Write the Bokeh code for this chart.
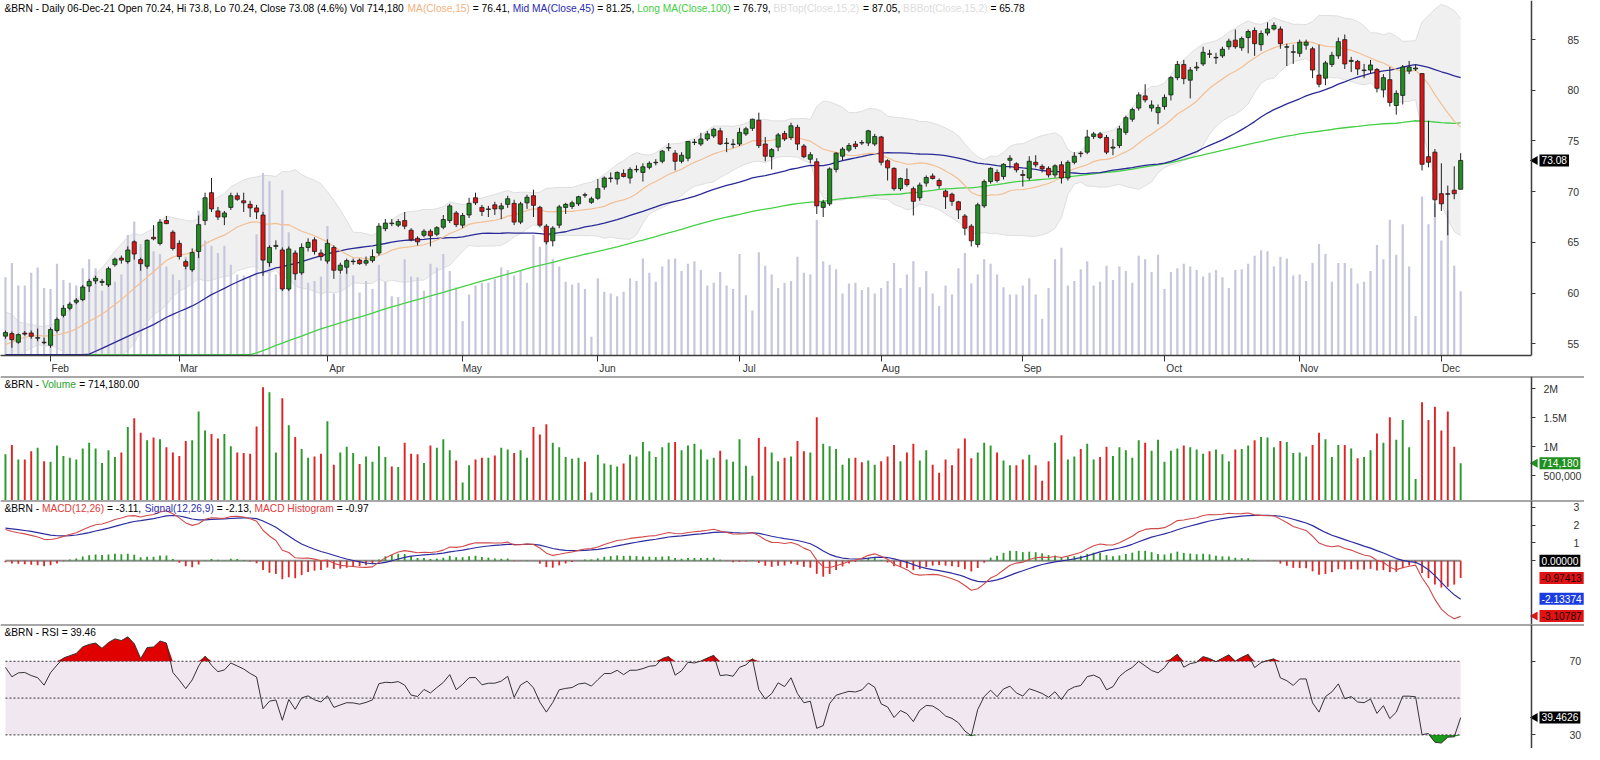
import numpy as np
import pandas as pd
from bokeh.plotting import figure
from bokeh.layouts import column
from bokeh.models import Range1d, FixedTicker, Label, Span
from bokeh.embed import file_html
from bokeh.resources import INLINE

# ------------------------------------------------------------------ data
opens = [
    55.75, 56.0, 55.15, 56.05, 56.06, 55.55, 55.15, 54.85, 56.3, 57.8,
    58.5, 59.1, 59.35, 60.7, 61.2, 61.05, 60.8, 62.8, 63.45, 63.1,
    65.05, 63.3, 62.65, 65.5, 64.9, 67.15, 66.0, 64.9, 63.1, 62.3,
    64.1, 67.15, 69.9, 68.1, 67.5, 68.45, 69.6, 69.1, 68.75, 68.4,
    67.7, 63.0, 64.6, 64.25, 60.4, 63.95, 62.0, 64.5, 65.25, 63.95,
    63.15, 64.5, 62.25, 62.55, 63.1, 63.25, 62.95, 63.2, 63.95, 66.35,
    66.9, 66.7, 67.15, 66.2, 65.4, 65.7, 66.1, 65.8, 66.5, 67.15,
    67.9, 66.7, 67.7, 69.4, 68.45, 68.25, 68.7, 68.3, 68.75, 68.85,
    67.0, 68.9, 69.6, 68.45, 66.6, 65.15, 66.7, 68.45, 68.55, 68.8,
    69.7, 68.95, 69.35, 70.45, 71.3, 71.25, 71.8, 71.35, 72.15, 71.9,
    72.4, 72.85, 73.0, 74.3, 73.8, 73.0, 73.3, 74.85, 74.7, 75.2,
    75.5, 76.0, 74.75, 74.65, 74.7, 75.7, 76.25, 77.05, 74.7, 73.45,
    74.4, 75.75, 75.35, 76.35, 74.5, 73.2, 72.95, 68.45, 68.8, 72.2,
    73.5, 74.1, 74.7, 74.85, 74.8, 74.7, 75.4, 73.05, 72.3, 70.3,
    71.2, 70.3, 69.4, 70.85, 71.55, 71.1, 70.05, 69.75, 69.0, 67.6,
    66.6, 64.8, 68.6, 71.0, 71.9, 71.5, 73.1, 72.75, 71.7, 71.35,
    72.9, 72.5, 72.3, 71.65, 72.65, 71.35, 72.9, 73.8, 73.9, 75.45,
    75.7, 75.35, 74.3, 74.55, 75.85, 77.15, 78.25, 79.45, 78.25, 77.8,
    78.4, 79.55, 81.25, 82.55, 81.0, 82.2, 82.6, 83.6, 83.2, 83.4,
    84.3, 84.95, 84.2, 85.2, 85.9, 84.5, 85.65, 86.05, 86.05, 84.25,
    83.75, 83.65, 84.45, 84.1, 81.5, 81.2, 82.55, 83.4, 85.0, 82.85,
    82.85, 81.95, 82.0, 82.05, 80.05, 81.05, 78.5, 79.5, 81.9, 82.1,
    81.65, 73.45, 73.9, 69.8, 69.8, 70.15, 70.24,
]
highs = [
    56.3, 56.2, 56.0, 56.25, 56.3, 56.5, 55.6, 56.6, 57.6, 58.8,
    59.1, 59.5, 60.8, 61.4, 61.7, 61.4, 62.6, 63.5, 63.7, 64.6,
    65.2, 63.5, 65.3, 66.7, 67.3, 67.6, 66.2, 65.2, 63.3, 64.4,
    67.65, 69.9, 71.35, 68.5, 68.1, 69.9, 69.9, 69.9, 69.1, 68.7,
    68.0, 64.7, 65.2, 64.5, 64.6, 64.2, 64.9, 65.4, 65.5, 64.3,
    65.3, 64.7, 63.0, 63.4, 63.4, 63.4, 63.6, 64.3, 66.9, 67.3,
    67.3, 67.3, 68.0, 66.4, 65.6, 66.3, 66.3, 66.6, 67.7, 68.8,
    68.1, 67.9, 69.4, 69.9, 68.7, 68.6, 69.0, 68.9, 69.6, 69.2,
    69.0, 69.7, 70.2, 68.6, 66.8, 66.6, 68.7, 68.9, 69.1, 69.6,
    69.9, 69.5, 71.25, 71.5, 71.9, 72.0, 72.2, 72.4, 72.6, 72.8,
    73.0, 73.2, 74.1, 74.8, 74.1, 73.9, 75.0, 75.2, 75.8, 76.0,
    76.3, 76.3, 75.3, 75.2, 76.3, 76.4, 77.2, 77.8, 75.4, 74.3,
    75.8, 76.0, 76.8, 76.6, 74.7, 73.9, 73.3, 69.2, 72.4, 73.9,
    74.4, 74.8, 75.0, 75.1, 76.1, 75.7, 75.5, 73.2, 72.4, 71.4,
    72.3, 70.5, 70.9, 71.6, 71.8, 71.3, 70.2, 69.9, 69.1, 67.8,
    66.8, 68.9, 71.2, 72.4, 72.2, 72.8, 73.6, 72.9, 72.15, 73.5,
    73.6, 72.7, 72.5, 72.7, 73.0, 73.1, 73.9, 74.0, 76.1, 75.9,
    75.9, 75.6, 75.2, 76.5, 77.5, 78.3, 79.8, 80.6, 79.0, 78.6,
    79.6, 81.4, 82.9, 83.0, 82.3, 82.8, 84.3, 84.0, 83.7, 84.3,
    85.1, 86.0, 85.3, 86.0, 86.2, 85.9, 86.7, 86.7, 86.3, 84.6,
    84.5, 85.0, 85.0, 84.3, 84.5, 82.9, 83.8, 85.2, 85.5, 83.3,
    83.0, 82.6, 83.0, 82.2, 81.6, 82.3, 80.0, 82.5, 82.9, 82.5,
    81.7, 77.0, 74.2, 72.8, 70.6, 72.5, 73.8,
]
lows = [
    55.5, 54.6, 55.0, 55.8, 55.5, 55.25, 54.95, 54.6, 56.1, 57.6,
    58.3, 58.9, 59.2, 60.1, 60.9, 60.7, 60.6, 62.6, 62.9, 62.9,
    63.3, 62.2, 62.4, 65.2, 64.7, 66.8, 64.2, 63.3, 62.35, 62.1,
    63.45, 66.7, 68.0, 67.2, 66.7, 68.2, 69.1, 68.0, 67.5, 67.3,
    61.7, 62.6, 64.3, 60.2, 60.2, 61.3, 61.8, 64.1, 63.8, 63.2,
    62.9, 61.4, 61.9, 61.9, 62.8, 62.8, 62.7, 63.0, 63.7, 66.1,
    66.6, 66.5, 66.3, 65.1, 64.7, 65.5, 64.6, 65.6, 66.3, 66.9,
    66.5, 66.4, 67.4, 68.7, 67.6, 67.5, 67.7, 67.3, 68.4, 66.7,
    66.8, 68.3, 67.5, 66.5, 64.8, 64.6, 66.4, 67.8, 68.3, 68.6,
    69.4, 68.8, 69.2, 70.2, 70.9, 70.7, 71.4, 70.8, 71.9, 71.0,
    72.2, 72.6, 72.8, 74.0, 72.1, 72.8, 73.0, 74.6, 74.5, 75.0,
    75.3, 74.6, 73.9, 74.3, 74.5, 75.5, 76.0, 74.3, 73.0, 72.2,
    74.0, 75.0, 75.1, 74.1, 73.3, 72.8, 67.8, 67.5, 68.6, 71.9,
    73.1, 73.9, 74.2, 74.6, 74.5, 74.5, 72.6, 71.1, 70.1, 70.1,
    70.5, 67.65, 69.1, 70.5, 71.2, 70.3, 68.3, 68.6, 67.3, 65.7,
    64.6, 64.5, 68.4, 70.8, 70.9, 71.2, 72.3, 71.9, 70.5, 71.1,
    72.4, 71.9, 71.4, 71.4, 70.8, 71.1, 72.7, 73.4, 73.7, 75.2,
    75.2, 73.7, 73.6, 74.3, 75.6, 76.9, 78.0, 78.8, 77.9, 76.65,
    78.1, 79.0, 81.0, 80.6, 79.2, 81.9, 82.4, 83.2, 82.6, 83.2,
    84.0, 84.1, 83.9, 83.65, 83.4, 83.9, 85.4, 85.9, 84.1, 82.4,
    82.6, 83.3, 84.0, 81.2, 80.3, 80.5, 82.3, 83.1, 82.1, 81.8,
    81.5, 81.2, 81.7, 79.8, 79.3, 78.4, 77.6, 78.6, 81.6, 81.9,
    72.1, 72.4, 67.5, 68.1, 65.7, 69.25, 70.24,
]
closes = [
    56.1, 55.4, 55.9, 55.95, 55.74, 55.6, 55.1, 56.4, 57.4, 58.5,
    58.9, 59.3, 60.6, 61.15, 61.45, 61.15, 62.4, 63.35, 63.25, 64.25,
    63.85, 62.9, 65.2, 65.35, 67.0, 66.85, 64.4, 63.6, 62.65, 64.0,
    66.75, 69.4, 68.3, 67.5, 67.9, 69.6, 69.25, 68.9, 68.4, 68.0,
    63.25, 64.5, 64.7, 60.4, 64.35, 61.9, 64.5, 65.0, 64.1, 63.6,
    64.9, 62.25, 62.75, 63.2, 63.15, 62.9, 63.2, 63.6, 66.6, 66.9,
    66.85, 67.05, 66.6, 65.25, 65.05, 66.1, 65.65, 66.45, 67.25, 68.6,
    66.75, 67.65, 68.85, 68.9, 68.05, 68.3, 68.3, 68.6, 69.3, 67.0,
    68.8, 69.45, 68.65, 66.7, 65.05, 66.4, 68.5, 68.75, 68.9, 69.5,
    69.65, 69.3, 70.3, 71.35, 71.35, 71.9, 71.5, 72.2, 72.2, 72.45,
    72.8, 72.9, 74.0, 74.35, 73.0, 73.6, 74.95, 74.9, 75.2, 75.7,
    76.15, 74.7, 74.8, 74.7, 75.85, 76.2, 77.15, 74.55, 73.5, 74.15,
    75.6, 75.2, 76.5, 74.7, 73.45, 73.65, 68.6, 68.95, 72.25, 73.8,
    74.2, 74.55, 74.45, 74.8, 76.0, 75.45, 72.9, 72.35, 70.3, 71.3,
    70.7, 69.05, 70.65, 71.4, 71.3, 70.6, 69.5, 69.05, 68.2, 66.4,
    65.15, 68.7, 71.0, 72.3, 71.1, 72.7, 73.3, 72.15, 71.6, 73.0,
    72.65, 72.25, 71.65, 72.55, 71.35, 72.9, 73.5, 73.75, 75.4, 75.7,
    75.35, 73.9, 74.4, 76.2, 77.3, 78.1, 79.55, 79.05, 78.55, 78.3,
    79.3, 81.25, 82.55, 81.15, 82.0, 82.3, 83.75, 83.55, 83.25, 84.05,
    84.85, 84.3, 85.1, 85.8, 84.6, 85.6, 86.05, 86.4, 84.6, 84.3,
    83.8, 84.75, 84.75, 82.0, 80.6, 82.7, 83.45, 84.8, 82.6, 82.95,
    82.1, 82.0, 82.5, 80.2, 81.25, 78.8, 79.7, 82.3, 82.3, 82.2,
    72.7, 72.9, 69.2, 68.8, 69.75, 69.8, 73.08,
]
volume_m = [
    0.87, 1.03, 0.78, 0.78, 0.92, 0.98, 0.75, 0.74, 1.02, 0.84,
    0.81, 0.78, 0.97, 1.07, 0.97, 0.72, 0.94, 0.82, 0.90, 1.34,
    1.49, 1.24, 1.11, 1.16, 1.13, 0.99, 0.90, 0.84, 1.10, 1.11,
    1.61, 1.28, 1.22, 1.14, 1.22, 1.01, 0.90, 0.89, 0.88, 1.35,
    2.03, 1.94, 0.90, 1.84, 1.37, 1.17, 0.96, 0.81, 0.83, 0.88,
    1.44, 0.69, 0.90, 1.00, 0.89, 0.70, 0.83, 0.74, 1.01, 0.82,
    0.66, 0.65, 1.07, 0.88, 0.87, 0.72, 1.02, 0.98, 1.13, 0.94,
    0.76, 0.38, 0.68, 0.78, 0.81, 0.81, 0.85, 0.98, 0.95, 0.89,
    0.94, 0.81, 1.34, 1.21, 1.39, 1.07, 0.99, 0.82, 0.79, 0.81,
    0.74, 0.21, 0.86, 0.71, 0.69, 0.66, 0.71, 0.86, 0.83, 1.08,
    0.92, 0.82, 0.99, 1.07, 1.08, 0.94, 1.02, 1.05, 0.95, 0.78,
    0.81, 0.93, 0.78, 0.74, 1.13, 0.67, 0.50, 1.15, 1.00, 0.90,
    0.75, 0.81, 0.83,
    1.10, 0.92, 0.90, 1.51, 1.05, 1.01, 0.96, 0.69, 0.80, 0.81,
    0.73, 0.76, 0.69, 0.75, 0.83, 1.03, 0.75, 0.90, 1.05, 0.76,
    0.94, 0.69, 0.55, 0.78, 0.68, 0.97, 1.14, 0.80, 0.90, 1.07,
    1.02, 0.90, 0.76, 0.68, 0.68, 0.78, 0.86, 0.68, 0.41, 0.75,
    1.07, 1.20, 0.78, 0.83, 0.96, 1.05, 0.78, 0.82, 1.00, 0.84,
    0.99, 0.94, 0.81, 1.11, 1.07, 0.93, 1.12, 0.74, 0.93, 0.97,
    1.02, 0.99, 0.95, 0.88, 0.92, 0.95, 0.87, 0.75, 0.95, 0.96,
    1.02, 1.11, 1.17, 1.16, 0.99, 1.10, 1.08, 0.89, 0.90, 0.83,
    1.03, 1.24, 1.13, 0.82, 1.03, 1.03, 0.97, 0.80, 0.82, 0.94,
    1.23, 1.07, 1.51, 1.12, 1.46, 0.99, 0.44, 1.77, 1.46, 1.69,
    1.28, 1.61, 1.00, 0.71418,
]
# closes before the first visible bar (Aug-2020 .. 20-Jan-2021), only used to seed the indicators
prior_closes = [
    45.81, 45.28,
    45.58, 44.43, 44.07, 42.66, 42.01, 39.78, 40.79, 40.06, 39.83, 39.61, 40.53,
    42.22, 43.30, 43.15, 41.44, 41.72, 41.77, 41.94, 41.92, 42.43, 41.03, 40.95,
    40.93, 39.27, 41.29, 42.65, 41.99, 43.34, 42.85, 41.72, 42.45, 43.32, 43.16,
    42.93, 42.62, 42.57, 41.73, 42.46, 41.77, 40.46, 41.20, 39.12, 37.65, 37.46,
    39.71, 40.71, 41.23, 40.93, 39.45, 42.40, 43.61, 43.80, 43.53, 42.78, 43.82,
    43.75, 44.34, 44.20, 44.96, 46.06, 48.02, 48.61, 47.80, 48.18, 47.59,
    47.42, 48.25, 48.71, 49.25, 48.79, 48.84, 48.86, 50.25, 49.97, 50.29, 50.76,
    51.08, 51.50, 52.26, 50.91, 50.08, 51.20, 51.29, 50.86, 51.09, 51.34, 51.80,
    51.09, 53.60, 54.30, 54.38, 55.99, 55.66, 56.58, 56.06, 56.42, 55.10, 54.75,
    55.90, 56.08,
]
first_day = "2021-01-21"
last_day = "2021-12-06"
holidays = ["2021-04-02"]

price_ticks = [55, 60, 65, 70, 75, 80, 85]
volume_ticks = [500000, 1000000, 1500000, 2000000]
volume_tick_labels = ["500,000", "1M", "1.5M", "2M"]
macd_ticks = [0, 1, 2, 3]
rsi_ticks = [30, 70]
rsi_levels = [30, 50, 70]

price_tag = (73.08, "73.08")
volume_tag = (714180, "714,180")
macd_tags = [(0.0, "0.00000"), (-0.97413, "-0.97413"), (-2.13374, "-2.13374"), (-3.10787, "-3.10787")]
rsi_tag = (39.4626, "39.4626")

price_header = [
    ("&BRN - Daily 06-Dec-21 Open 70.24, Hi 73.8, Lo 70.24, Close 73.08 (4.6%) Vol 714,180 ", "#000000"),
    ("MA(Close,15)", "#f2b27e"), (" = 76.41, ", "#000000"),
    ("Mid MA(Close,45)", "#2b2bb0"), (" = 81.25, ", "#000000"),
    ("Long MA(Close,100)", "#3fcf3f"), (" = 76.79, ", "#000000"),
    ("BBTop(Close,15,2)", "#dcdcdc"), (" = 87.05, ", "#000000"),
    ("BBBot(Close,15,2)", "#dcdcdc"), (" = 65.78", "#000000"),
]
volume_header = [("&BRN - ", "#000000"), ("Volume", "#28a428"), (" = 714,180.00", "#000000")]
macd_header = [
    ("&BRN - ", "#000000"), ("MACD(12,26)", "#e03c3c"), (" = -3.11, ", "#000000"),
    ("Signal(12,26,9)", "#2b2bb0"), (" = -2.13, ", "#000000"),
    ("MACD Histogram", "#e03c3c"), (" = -0.97", "#000000"),
]
rsi_header = [("&BRN - RSI = 39.46", "#000000")]

# ------------------------------------------------------------------ indicators
n = len(closes)
assert len(opens) == len(highs) == len(lows) == len(volume_m) == n
dates = pd.bdate_range(first_day, last_day).drop(pd.to_datetime(holidays))
assert len(dates) == n
idx = np.arange(n)
o = np.array(opens); h = np.array(highs); l = np.array(lows); c = np.array(closes)
vol = np.array(volume_m) * 1e6
up_bar = c >= o

allc = pd.Series(prior_closes + closes, dtype=float)
k = len(prior_closes)
ma15 = allc.rolling(15).mean().values[k:]
ma45 = allc.rolling(45).mean().values[k:]
ma100 = allc.rolling(100).mean().values[k:]
sd15 = allc.rolling(15).std(ddof=0).values[k:]
bbtop = ma15 + 2 * sd15
bbbot = ma15 - 2 * sd15
ema12 = allc.ewm(span=12, adjust=False).mean()
ema26 = allc.ewm(span=26, adjust=False).mean()
macd_s = ema12 - ema26
sig_s = macd_s.ewm(span=9, adjust=False).mean()
macd = macd_s.values[k:]
signal = sig_s.values[k:]
hist = macd - signal
d = allc.diff()
gain = d.clip(lower=0).ewm(alpha=1 / 14, adjust=False).mean()
loss = (-d).clip(lower=0).ewm(alpha=1 / 14, adjust=False).mean()
rsi = (100 - 100 / (1 + gain / loss)).values[k:]

# ------------------------------------------------------------------ layout
FONT = "Liberation Sans"
HEAD_PX = 10.2
HS = f"{HEAD_PX}px"
AS = "10.5px"
TS = "10.2px"
FW = 1584                       # frame covers the whole width; the value axis sits inside it
X_LO, X_AXIS = -0.77, 237.0     # x of the first pixel and of the right value axis (bar units)
PX_PER_BAR = 1531 / (X_AXIS - X_LO)
X_HI = X_LO + FW / PX_PER_BAR
H_PRICE, H_AXIS, H_VOL, H_MACD, H_RSI = 355, 15, 124, 124, 124
Y_LO, Y_HI = 53.84, 88.86
xr = Range1d(X_LO, X_HI)
AXC = "#3c3c3c"
GREEN = "#1f8f1f"
RED = "#e01414"

AW = {' ': 278, '%': 889, '&': 667, '(': 333, ')': 333, ',': 278, '-': 333, '.': 278, '=': 584,
      'A': 667, 'B': 667, 'C': 722, 'D': 722, 'G': 778, 'H': 722, 'I': 278, 'L': 556, 'M': 833,
      'N': 722, 'O': 778, 'R': 722, 'S': 667, 'T': 611, 'V': 667,
      'a': 556, 'b': 556, 'c': 500, 'd': 556, 'e': 556, 'g': 556, 'h': 556, 'i': 222, 'l': 222,
      'm': 833, 'n': 556, 'o': 556, 'p': 556, 'r': 333, 's': 500, 't': 278, 'u': 556, 'y': 500}
for dg in "0123456789":
    AW[dg] = 556


def text_width(s):
    return sum(AW.get(ch, 556) for ch in s) * HEAD_PX / 1000.0


def make_fig(fh, yr, bottom=0, standoff=30):
    f = figure(frame_width=FW, frame_height=fh, x_range=xr, y_range=yr,
               output_backend="svg", toolbar_location=None,
               y_axis_location="right", x_axis_location=("below" if bottom else None),
               min_border_left=0, min_border_right=0, min_border_top=0, min_border_bottom=bottom,
               outline_line_color=None, background_fill_color="white", border_fill_color="white")
    f.grid.visible = False
    ax = f.yaxis[0]
    ax.fixed_location = X_AXIS
    ax.axis_line_color = AXC
    ax.axis_line_width = 1.5
    ax.major_tick_out = 4
    ax.major_tick_in = 0
    ax.major_tick_line_color = AXC
    ax.minor_tick_line_color = None
    ax.major_label_standoff = standoff
    ax.major_label_text_font = FONT
    ax.major_label_text_font_size = AS
    ax.major_label_text_color = "#333333"
    return f


def header(f, segs, fh):
    x = 4.0
    for txt, col in segs:
        lead = len(txt) - len(txt.lstrip(" "))
        t = txt.strip(" ")
        if t:
            f.add_layout(Label(x=x + text_width(" " * lead), y=fh - 8, x_units="screen", y_units="screen",
                               text=t, text_color=col, text_font=FONT, text_font_size=HS,
                               text_baseline="middle"))
        x += text_width(txt)


def tag(f, yv, txt, bg, fg, arrow=True):
    f.add_layout(Label(x=X_AXIS + 8 / PX_PER_BAR, y=yv, text=txt, text_color=fg, background_fill_color=bg,
                       text_font=FONT, text_font_size=TS, text_baseline="middle",
                       text_align="left", padding=2))
    if arrow:
        f.scatter(x=[X_AXIS + 3.5 / PX_PER_BAR], y=[yv], marker="triangle", angle=np.pi / 2,
                  size=9, fill_color=bg, line_color=None)


def top_border(f, yr):
    f.add_layout(Span(location=yr.end, dimension="width", line_color="#505050", line_width=2))


# ---------------- price pane
pyr = Range1d(Y_LO, Y_HI)
p = make_fig(H_PRICE, pyr, bottom=H_AXIS, standoff=32)
p.yaxis[0].ticker = FixedTicker(ticks=price_ticks)
p.extra_y_ranges = {"ovl": Range1d(0, 3.95e6)}

p.varea(x=idx, y1=bbbot, y2=bbtop, fill_color="#f0f0f0")
p.line(idx, bbtop, line_color="#dedede", line_width=1)
p.line(idx, bbbot, line_color="#dedede", line_width=1)
p.vbar(x=idx, top=vol, bottom=0, width=0.34, y_range_name="ovl", fill_color="#c6c6dc", line_color=None)
floor = Y_LO + 0.09
p.line(idx, np.maximum(ma100, floor), line_color="#46d046", line_width=1.3)
p.line(idx, np.maximum(ma45, floor), line_color="#2a2a96", line_width=1.3)
p.line(idx, ma15, line_color="#f3bf94", line_width=1.2)
p.segment(x0=idx, y0=h, x1=idx, y1=l, line_color="#202020", line_width=1)
body_col = np.where(up_bar, GREEN, RED)
p.vbar(x=idx, top=np.maximum(o, c), bottom=np.minimum(o, c), width=0.64,
       fill_color=body_col, line_color="#1a1a1a", line_width=0.8)

month_pos = [i for i in range(1, n) if dates[i].month != dates[i - 1].month]
label_pos = [m + 1.5 for m in month_pos]
xa = p.xaxis[0]
xa.ticker = FixedTicker(ticks=label_pos, minor_ticks=month_pos)
xa.major_label_overrides = {lp: dates[m].strftime("%b") for lp, m in zip(label_pos, month_pos)}
xa.bounds = (X_LO, X_AXIS)
xa.major_tick_line_color = None
xa.major_tick_out = 0
xa.major_tick_in = 0
xa.minor_tick_out = 6
xa.minor_tick_in = 0
xa.minor_tick_line_color = "#333333"
xa.major_label_standoff = 1
xa.axis_line_color = AXC
xa.axis_line_width = 1.5
xa.major_label_text_font = FONT
xa.major_label_text_font_size = HS
xa.major_label_text_color = "#333333"
header(p, price_header, H_PRICE)
tag(p, price_tag[0], price_tag[1], "#000000", "#ffffff")

# ---------------- volume pane
vyr = Range1d(0.07e6, 2.214e6)
pv = make_fig(H_VOL, vyr, standoff=8)
pv.yaxis[0].ticker = FixedTicker(ticks=volume_ticks)
pv.yaxis[0].major_label_overrides = dict(zip(volume_ticks, volume_tick_labels))
pv.vbar(x=idx, top=vol, bottom=0, width=0.3, fill_color=np.where(up_bar, "#2a9a2a", "#e02424"), line_color=None)
top_border(pv, vyr)
header(pv, volume_header, H_VOL)
tag(pv, volume_tag[0], volume_tag[1], "#1f8f1f", "#ffffff")

# ---------------- MACD pane
myr = Range1d(-3.58, 3.384)
pm = make_fig(H_MACD, myr, standoff=38)
pm.yaxis[0].ticker = FixedTicker(ticks=macd_ticks)
pm.yaxis[0].major_label_overrides = {0: ""}
pm.line([idx[0], idx[-1]], [0, 0], line_color="#8c8c8c", line_width=2)
pm.vbar(x=idx, top=hist, bottom=0, width=0.28,
        fill_color=np.where(hist >= 0, "#2a9a2a", "#e02828"), line_color=None)
pm.line(idx, signal, line_color="#2c2ca0", line_width=1.2)
pm.line(idx, macd, line_color="#d04a4a", line_width=1.1)
top_border(pm, myr)
header(pm, macd_header, H_MACD)
tag_style = [("#000000", "#ffffff", False), ("#e01414", "#1a0000", False),
             ("#1a3ce0", "#ffffff", False), ("#e01414", "#1a0000", True)]
for (yv, txt), (bg, fg, arr) in zip(macd_tags, tag_style):
    tag(pm, yv, txt, bg, fg, arr)

# ---------------- RSI pane
ryr = Range1d(22.6, 90.0)
pr = make_fig(H_RSI, ryr, standoff=34)
pr.yaxis[0].ticker = FixedTicker(ticks=rsi_ticks)
pr.varea(x=idx, y1=rsi_levels[0], y2=rsi_levels[-1], fill_color="#f1e7f1")
pr.varea(x=idx, y1=rsi_levels[-1], y2=np.maximum(rsi, rsi_levels[-1]), fill_color="#e00000")
pr.varea(x=idx, y1=np.minimum(rsi, rsi_levels[0]), y2=rsi_levels[0], fill_color="#1a9a1a")
for lev in rsi_levels:
    pr.line(idx, np.full(n, lev), line_color="#333333", line_width=1, line_dash="2 2")
pr.line(idx, rsi, line_color="#333333", line_width=1)
top_border(pr, ryr)
header(pr, rsi_header, H_RSI)
tag(pr, rsi_tag[0], rsi_tag[1], "#000000", "#ffffff")

layout = column(p, pv, pm, pr, spacing=0)
open("out.html", "w").write(file_html(layout, INLINE, title="BRN daily"))
